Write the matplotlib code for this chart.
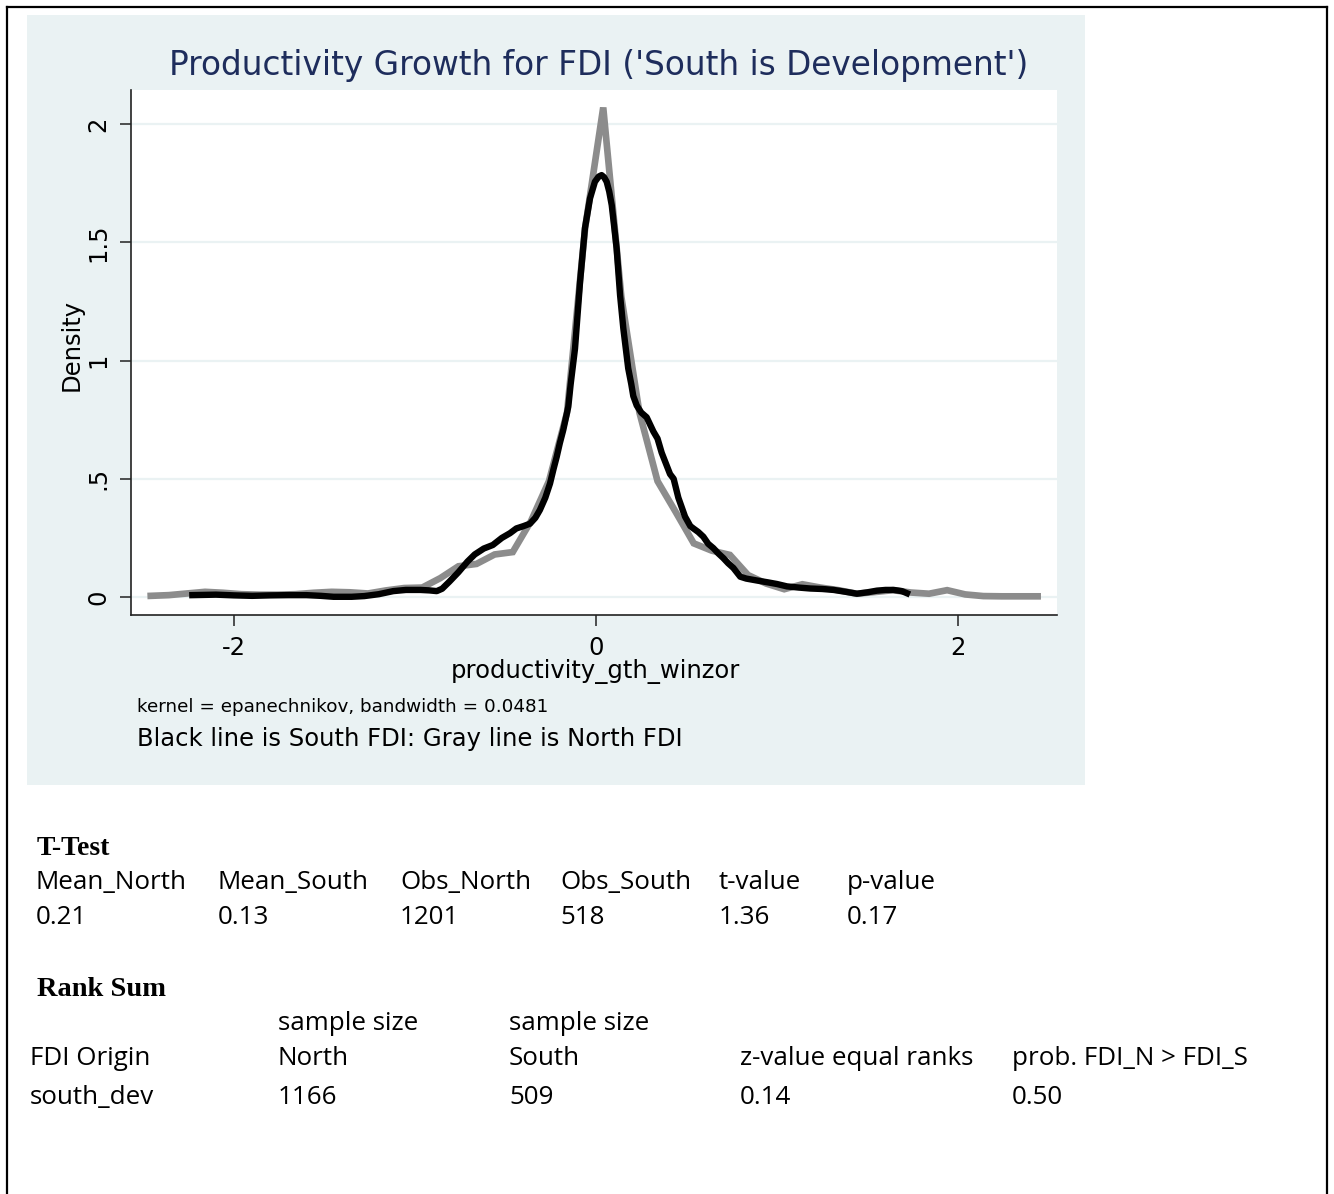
import matplotlib
matplotlib.use("Agg")
import matplotlib.pyplot as plt
from matplotlib.patches import Rectangle
from matplotlib.lines import Line2D

W, H = 1334, 1194

# ---------------- data ----------------
north_x = [-2.46, -2.36, -2.26, -2.16, -2.06, -1.96, -1.86, -1.76, -1.66, -1.56,
           -1.46, -1.36, -1.26, -1.16, -1.06, -0.96, -0.86, -0.76, -0.66, -0.56,
           -0.46, -0.36, -0.26, -0.16, -0.06, 0.04, 0.14, 0.24, 0.34, 0.44,
           0.54, 0.64, 0.74, 0.84, 0.94, 1.04, 1.14, 1.24, 1.34, 1.44,
           1.54, 1.64, 1.74, 1.84, 1.94, 2.04, 2.14, 2.24, 2.34, 2.44]
north_density = [0.005, 0.008, 0.015, 0.022, 0.018, 0.012, 0.010, 0.010, 0.012, 0.018,
                 0.022, 0.020, 0.015, 0.028, 0.038, 0.040, 0.080, 0.130, 0.140, 0.180,
                 0.190, 0.320, 0.490, 0.780, 1.560, 2.070, 1.270, 0.780, 0.490, 0.360,
                 0.227, 0.196, 0.178, 0.093, 0.057, 0.033, 0.054, 0.040, 0.029, 0.014,
                 0.021, 0.029, 0.019, 0.014, 0.029, 0.011, 0.004, 0.003, 0.003, 0.003]

south_x = [-2.23, -2.10, -2.00, -1.90, -1.80, -1.70, -1.60, -1.52, -1.45, -1.35,
           -1.28, -1.20, -1.12, -1.05, -0.97, -0.92, -0.88, -0.85, -0.81, -0.76,
           -0.71, -0.67, -0.62, -0.57, -0.52, -0.475, -0.44, -0.40, -0.365, -0.335,
           -0.31, -0.28, -0.254, -0.235, -0.217, -0.20, -0.181, -0.153, -0.140, -0.116,
           -0.088, -0.061, -0.033, -0.006, 0.015, 0.031, 0.045, 0.059, 0.073, 0.087,
           0.100, 0.114, 0.133, 0.151, 0.178, 0.195, 0.206, 0.225, 0.250, 0.280,
           0.317, 0.340, 0.363, 0.409, 0.429, 0.455, 0.492, 0.521, 0.538, 0.565,
           0.593, 0.620, 0.648, 0.675, 0.703, 0.730, 0.759, 0.797, 0.830, 0.888,
           0.950, 1.000, 1.055, 1.120, 1.184, 1.250, 1.313, 1.380, 1.442, 1.500,
           1.552, 1.600, 1.645, 1.690, 1.718]
south_density = [0.008, 0.010, 0.007, 0.005, 0.007, 0.008, 0.008, 0.005, 0.001, 0.001,
                 0.004, 0.012, 0.025, 0.030, 0.030, 0.028, 0.025, 0.035, 0.065, 0.105,
                 0.150, 0.180, 0.205, 0.220, 0.250, 0.270, 0.290, 0.300, 0.310, 0.335,
                 0.368, 0.420, 0.480, 0.540, 0.593, 0.650, 0.706, 0.805, 0.900, 1.050,
                 1.333, 1.560, 1.686, 1.756, 1.778, 1.784, 1.775, 1.756, 1.715, 1.657,
                 1.570, 1.474, 1.277, 1.136, 0.967, 0.900, 0.850, 0.810, 0.780, 0.760,
                 0.700, 0.670, 0.610, 0.520, 0.500, 0.420, 0.340, 0.300, 0.290, 0.275,
                 0.255, 0.225, 0.207, 0.185, 0.165, 0.143, 0.123, 0.086, 0.078, 0.070,
                 0.062, 0.055, 0.045, 0.040, 0.036, 0.034, 0.030, 0.022, 0.014, 0.020,
                 0.027, 0.030, 0.030, 0.025, 0.016]

y_ticks = [0, 0.5, 1, 1.5, 2]
y_tick_labels = ["0", ".5", "1", "1.5", "2"]
x_ticks = [-2, 0, 2]
x_tick_labels = ["-2", "0", "2"]

title = "Productivity Growth for FDI ('South is Development')"
x_label = "productivity_gth_winzor"
y_label = "Density"
note_kernel = "kernel = epanechnikov, bandwidth = 0.0481"
note_lines = "Black line is South FDI: Gray line is North FDI"

ttest_headers = ["Mean_North", "Mean_South", "Obs_North", "Obs_South", "t-value", "p-value"]
ttest_values = ["0.21", "0.13", "1201", "518", "1.36", "0.17"]
rank_top = ["", "sample size", "sample size", "", ""]
rank_headers = ["FDI Origin", "North", "South", "z-value equal ranks", "prob. FDI_N > FDI_S"]
rank_values = ["south_dev", "1166", "509", "0.14", "0.50"]

# ---------------- figure ----------------
fig = plt.figure(figsize=(W / 100, H / 100), dpi=100)
fig.patch.set_facecolor("white")


def fx(px):
    return px / W


def fy(py):
    return 1 - py / H


PANEL = "#EAF2F3"
fig.patches.append(Rectangle((fx(27), fy(785)), 1058 / W, 770 / H,
                             transform=fig.transFigure, facecolor=PANEL,
                             edgecolor="none", zorder=-10))
# outer border
for (x0, y0, x1, y1) in [(7, 7, 1327, 7), (7, 7, 7, 1194), (1327, 7, 1327, 1194)]:
    fig.add_artist(Line2D([fx(x0), fx(x1)], [fy(y0), fy(y1)], transform=fig.transFigure,
                          color="black", lw=1.6))

ax = fig.add_axes([fx(131), fy(615), (1057 - 131) / W, (615 - 90) / H])
ax.set_zorder(1)
ax.set_facecolor("white")
ax.set_xlim(-2.569, 2.547)
ax.set_ylim(-0.076, 2.144)

for yt in y_ticks:
    ax.axhline(yt, color=PANEL, lw=1.6, zorder=1)

ax.plot(north_x, north_density, color="#8C8C8C", lw=4.8, zorder=3,
        solid_joinstyle="miter")
ax.plot(south_x, south_density, color="black", lw=4.6, zorder=4)

for s in ["top", "right"]:
    ax.spines[s].set_visible(False)
for s in ["left", "bottom"]:
    ax.spines[s].set_color("#222222")
    ax.spines[s].set_linewidth(1.2)

FONT = "DejaVu Sans"
ax.set_yticks(y_ticks)
ax.set_yticklabels(y_tick_labels, rotation=90, va="center", fontsize=17.5, family=FONT)
ax.set_xticks(x_ticks)
ax.set_xticklabels(x_tick_labels, fontsize=17.5, family=FONT)
ax.tick_params(axis="both", direction="out", length=8, width=1.1, color="#222222")
ax.tick_params(axis="x", pad=7)
ax.tick_params(axis="y", pad=7)

ax.set_xlabel(x_label, fontsize=17.5, family=FONT)
ax.xaxis.set_label_coords((595 - 131) / 926, (615 - 672) / 525)
ax.xaxis.label.set_va("center")
ax.set_ylabel(y_label, fontsize=17.5, family=FONT)
ax.yaxis.set_label_coords((72 - 131) / 926, (615 - 345) / 525)
ax.yaxis.label.set_va("center")
ax.yaxis.label.set_ha("center")

fig.text(fx(599), fy(66), title, ha="center", va="center", fontsize=23.6,
         color="#1E2D5C", family=FONT)
fig.text(fx(137), fy(707), note_kernel, ha="left", va="center", fontsize=13.2, family=FONT)
fig.text(fx(137), fy(739), note_lines, ha="left", va="center", fontsize=17.5, family=FONT)

# ---------------- tables below ----------------
SERIF = "Liberation Serif"
TFONT = "Open Sans"
TS = 18.7
fig.text(fx(37), fy(855), "T-Test", ha="left", va="baseline", fontsize=20,
         fontweight="bold", family=SERIF)
tt_cols = [36, 218, 400, 560, 719, 847]
for c, h, v in zip(tt_cols, ttest_headers, ttest_values):
    fig.text(fx(c), fy(889), h, ha="left", va="baseline", fontsize=TS, family=TFONT)
    fig.text(fx(c), fy(924), v, ha="left", va="baseline", fontsize=TS, family=TFONT)

fig.text(fx(37), fy(996), "Rank Sum", ha="left", va="baseline", fontsize=20.5,
         fontweight="bold", family=SERIF)
rk_cols = [30, 278, 509, 740, 1012]
for c, t0, h, v in zip(rk_cols, rank_top, rank_headers, rank_values):
    if t0:
        fig.text(fx(c), fy(1030), t0, ha="left", va="baseline", fontsize=TS, family=TFONT)
    fig.text(fx(c), fy(1065), h, ha="left", va="baseline", fontsize=TS, family=TFONT)
    fig.text(fx(c), fy(1104), v, ha="left", va="baseline", fontsize=TS, family=TFONT)

fig.savefig("out.png", dpi=100)
